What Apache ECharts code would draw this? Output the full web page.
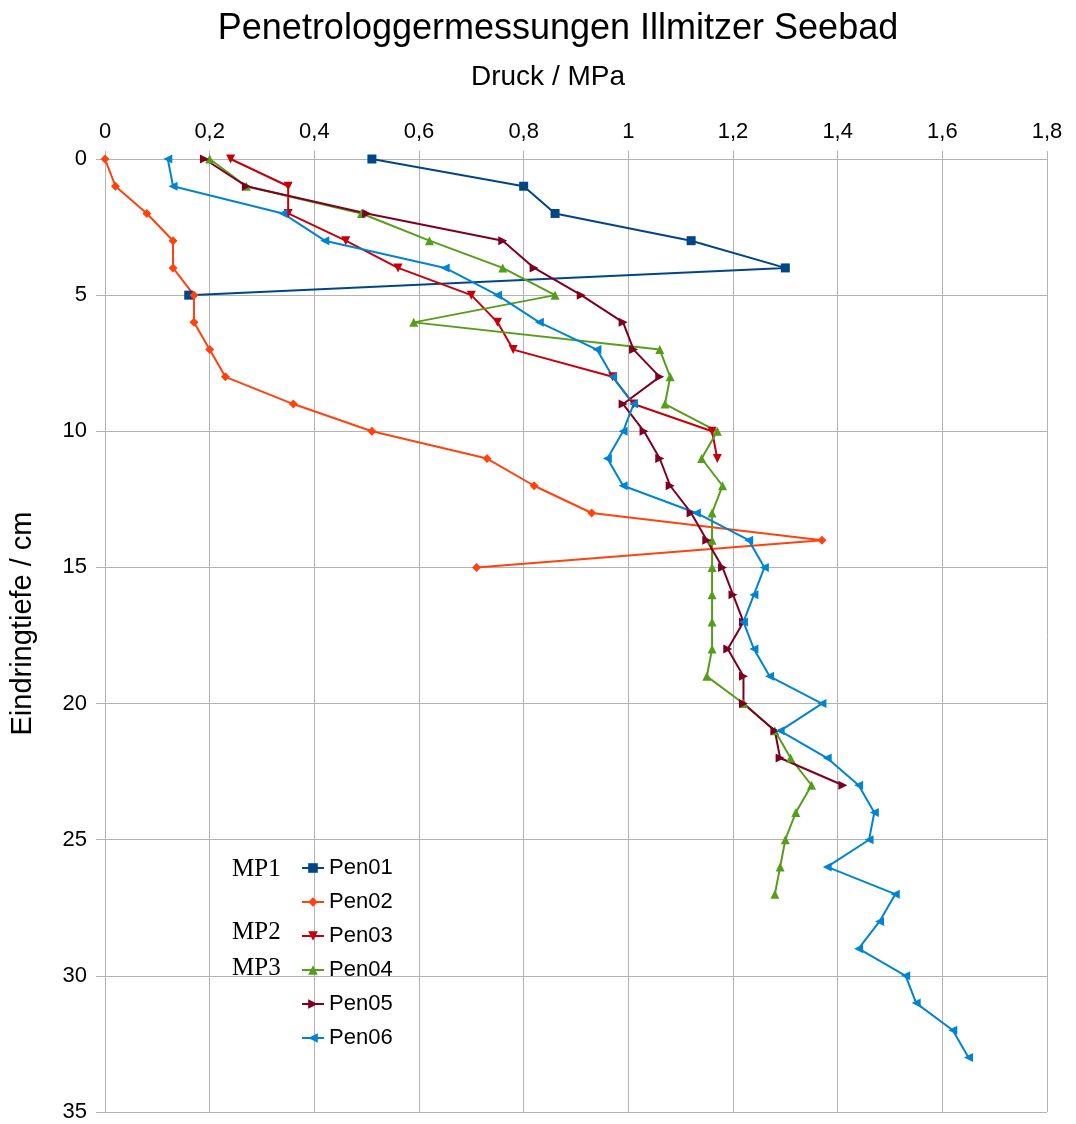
<!DOCTYPE html>
<html>
<head>
<meta charset="utf-8">
<script src="https://cdn.jsdelivr.net/npm/echarts@6/dist/echarts.min.js"></script>
<style>
  html, body { margin: 0; padding: 0; background: #ffffff; }
  #chart { width: 1076px; height: 1124px; }
</style>
</head>
<body>
<div id="chart"></div>
<script>
// Eindringtiefe in cm (one reading per cm)
const depths = [0, 1, 2, 3, 4, 5, 6, 7, 8, 9, 10, 11, 12, 13, 14, 15, 16, 17, 18, 19, 20,
  21, 22, 23, 24, 25, 26, 27, 28, 29, 30, 31, 32, 33];

// Druck in MPa, per Messung
const pen01 = [0.51, 0.80, 0.86, 1.12, 1.30, 0.16];
const pen02 = [0, 0.02, 0.08, 0.13, 0.13, 0.17, 0.17, 0.20, 0.23, 0.36, 0.51, 0.73, 0.82,
  0.93, 1.37, 0.71];
const pen03 = [0.24, 0.35, 0.35, 0.46, 0.56, 0.70, 0.75, 0.78, 0.97, 1.01, 1.16, 1.17];
const pen04 = [0.20, 0.27, 0.49, 0.62, 0.76, 0.86, 0.59, 1.06, 1.08, 1.07, 1.17, 1.14, 1.18,
  1.16, 1.16, 1.16, 1.16, 1.16, 1.16, 1.15, 1.22, 1.28, 1.31, 1.35, 1.32, 1.30, 1.29, 1.28];
const pen05 = [0.19, 0.27, 0.50, 0.76, 0.82, 0.91, 0.99, 1.01, 1.06, 0.99, 1.03, 1.06, 1.08,
  1.12, 1.15, 1.18, 1.20, 1.22, 1.19, 1.22, 1.22, 1.28, 1.29, 1.41];
const pen06 = [0.12, 0.13, 0.34, 0.42, 0.65, 0.75, 0.83, 0.94, 0.97, 1.01, 0.99, 0.96, 0.99,
  1.13, 1.23, 1.26, 1.24, 1.22, 1.24, 1.27, 1.37, 1.29, 1.38, 1.44, 1.47, 1.46, 1.38, 1.51,
  1.48, 1.44, 1.53, 1.55, 1.62, 1.65];

const seriesNames = ['Pen01', 'Pen02', 'Pen03', 'Pen04', 'Pen05', 'Pen06'];
const seriesValues = [pen01, pen02, pen03, pen04, pen05, pen06];
const colors = ['#004586', '#ff420e', '#c5000b', '#579d1c', '#7e0021', '#0084d1'];
const symbols = [
  'rect',
  'diamond',
  'path://M0,0L10,0L5,10Z',   // Dreieck nach unten
  'triangle',
  'path://M0,0L10,5L0,10Z',   // nach rechts
  'path://M10,0L0,5L10,10Z'   // nach links
];

const chart = echarts.init(document.getElementById('chart'), null, { renderer: 'canvas' });

const fmtComma = (v) => String(Number(v.toFixed(1))).replace('.', ',');
const sans = '"Liberation Sans", Arial, sans-serif';
const serif = '25px "Liberation Serif", serif';

const option = {
  animation: false,
  backgroundColor: '#ffffff',
  color: colors,
  title: {
    text: 'Penetrologgermessungen Illmitzer Seebad',
    left: 553,
    textAlign: 'center',
    top: 6,
    textStyle: { fontFamily: sans, fontSize: 36, fontWeight: 'normal', color: '#000000' }
  },
  grid: { left: 105, right: 29, top: 159, bottom: 12, containLabel: false },
  xAxis: {
    type: 'value',
    position: 'top',
    min: 0,
    max: 1.8,
    interval: 0.2,
    name: 'Druck / MPa',
    nameLocation: 'middle',
    nameGap: 68,
    nameTextStyle: { fontFamily: sans, fontSize: 28, color: '#000000', padding: [0, 56, 0, 0] },
    axisLine: { show: true, lineStyle: { color: '#b3b3b3', width: 1 } },
    axisTick: { show: true, length: 8, lineStyle: { color: '#b3b3b3' } },
    axisLabel: { fontFamily: sans, fontSize: 22, color: '#000000', margin: 16, formatter: fmtComma },
    splitLine: { show: true, lineStyle: { color: '#b3b3b3', width: 1 } }
  },
  yAxis: {
    type: 'value',
    inverse: true,
    min: 0,
    max: 35,
    interval: 5,
    name: 'Eindringtiefe / cm',
    nameLocation: 'middle',
    nameGap: 68,
    nameTextStyle: { fontFamily: sans, fontSize: 29, color: '#000000', padding: [0, 0, 0, 24] },
    axisLine: { show: true, lineStyle: { color: '#b3b3b3', width: 1 } },
    axisTick: { show: true, length: 9, lineStyle: { color: '#b3b3b3' } },
    axisLabel: { fontFamily: sans, fontSize: 22, color: '#000000', margin: 18 },
    splitLine: { show: true, lineStyle: { color: '#b3b3b3', width: 1 } }
  },
  legend: {
    orient: 'vertical',
    left: 301,
    top: 856,
    padding: 0,
    itemWidth: 22,
    itemHeight: 12,
    itemGap: 10,
    textStyle: { fontFamily: sans, fontSize: 22, lineHeight: 24, color: '#000000' },
    data: seriesNames
  },
  graphic: [
    { type: 'text', left: 232, top: 857, style: { text: 'MP1', font: serif, fill: '#000000' } },
    { type: 'text', left: 232, top: 920, style: { text: 'MP2', font: serif, fill: '#000000' } },
    { type: 'text', left: 232, top: 956, style: { text: 'MP3', font: serif, fill: '#000000' } }
  ],
  series: seriesNames.map((name, i) => ({
    name: name,
    type: 'line',
    data: seriesValues[i].map((v, k) => [v, depths[k]]),
    symbol: symbols[i],
    symbolSize: 9,
    showAllSymbol: true,
    lineStyle: { width: 2, color: colors[i] },
    itemStyle: { color: colors[i] },
    emphasis: { disabled: true }
  }))
};

chart.setOption(option);
</script>
</body>
</html>
